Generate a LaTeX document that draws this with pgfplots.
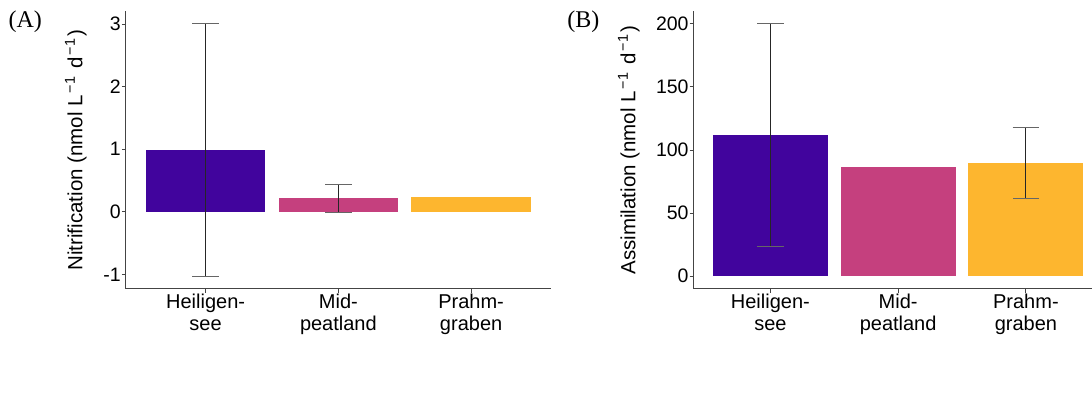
\documentclass[border=0pt]{standalone}
\usepackage{fontspec}
\setmainfont{Liberation Sans}
\newfontfamily\panelfont{Liberation Serif}
\usepackage{pgfplots}
\pgfplotsset{compat=1.18}

\definecolor{siteA}{HTML}{41049D}
\definecolor{siteB}{HTML}{C5407E}
\definecolor{siteC}{HTML}{FDB62F}
\definecolor{axisgray}{HTML}{444444}

% superscript "-1" with the loose spacing of the unit labels
\newcommand{\inv}{\kern2pt\textsuperscript{−1}\kern2pt}

\pgfplotsset{
  panel/.style={
    scale only axis,
    height=278pt,
    anchor=south west,
    axis x line*=bottom,
    axis y line*=left,
    axis line style={axisgray, line width=0.9pt},
    tick align=outside,
    major tick length=4pt,
    tick style={axisgray, line width=0.8pt},
    xmin=-0.6,
    xtick={0,1,2},
    xticklabels={Heiligen-\\see, Mid-\\peatland, Prahm-\\graben},
    xticklabel style={align=center, font=\fontsize{20}{22}\selectfont, inner sep=1pt},
    yticklabel style={font=\fontsize{19.5}{23}\selectfont, inner sep=1pt},
    ylabel style={font=\fontsize{20.5}{24}\selectfont, anchor=center},
    /pgf/number format/assume math mode=true,
  },
  sitebar/.style={ybar, bar width=0.9, bar shift=0pt, draw=none, fill=#1},
}

\newcommand{\errplot}[1]{%
  \addplot[forget plot, draw=none, no markers,
    error bars/.cd,
      y dir=both, y explicit,
      error bar style={draw=black!85, line width=0.8pt},
      error mark=|,
      error mark options={draw=black!60, line width=0.8pt, mark size=13.3pt},
  ] coordinates {#1};%
}

\begin{document}
\begin{tikzpicture}
\path (0pt,0pt) rectangle (1092pt,403pt);

% (A) nitrification rates
\begin{axis}[panel,
  at={(126pt,114pt)}, width=425pt,
  xmax=2.6,
  ymin=-1.232, ymax=3.21,
  ytick={-1,0,1,2,3},
  yticklabels={-1,0,1,2,3},
  ylabel={Nitrification (nmol L\inv\ d\inv)},
  ylabel style={at={(axis description cs:-0.118,0.5)}},
]
\addplot[sitebar=siteA] coordinates {(0,0.99)};
\addplot[sitebar=siteB] coordinates {(1,0.215)};
\addplot[sitebar=siteC] coordinates {(2,0.243)};
\errplot{(0,0.99) +- (0,2.02) (1,0.215) +- (0,0.22)}
\end{axis}
\node[anchor=west, font=\panelfont\fontsize{24}{28}\selectfont] at (5pt,381pt) {(A)};

% (B) assimilation rates; the panel runs on past the right edge
\begin{axis}[panel,
  at={(694pt,114pt)}, width=398pt,
  xmax=2.514,
  ymin=-10, ymax=210,
  ytick={0,50,100,150,200},
  yticklabels={0,50,100,150,200},
  ylabel={Assimilation (nmol L\inv\ d\inv)},
  ylabel style={at={(axis description cs:-0.163,0.5)}},
]
\addplot[sitebar=siteA] coordinates {(0,111.7)};
\addplot[sitebar=siteB] coordinates {(1,86.8)};
\addplot[sitebar=siteC] coordinates {(2,89.6)};
\errplot{(0,111.7) +- (0,88.3) (2,89.6) +- (0,28.3)}
\end{axis}
\node[anchor=west, font=\panelfont\fontsize{24}{28}\selectfont] at (564pt,381pt) {(B)};
\end{tikzpicture}
\end{document}
